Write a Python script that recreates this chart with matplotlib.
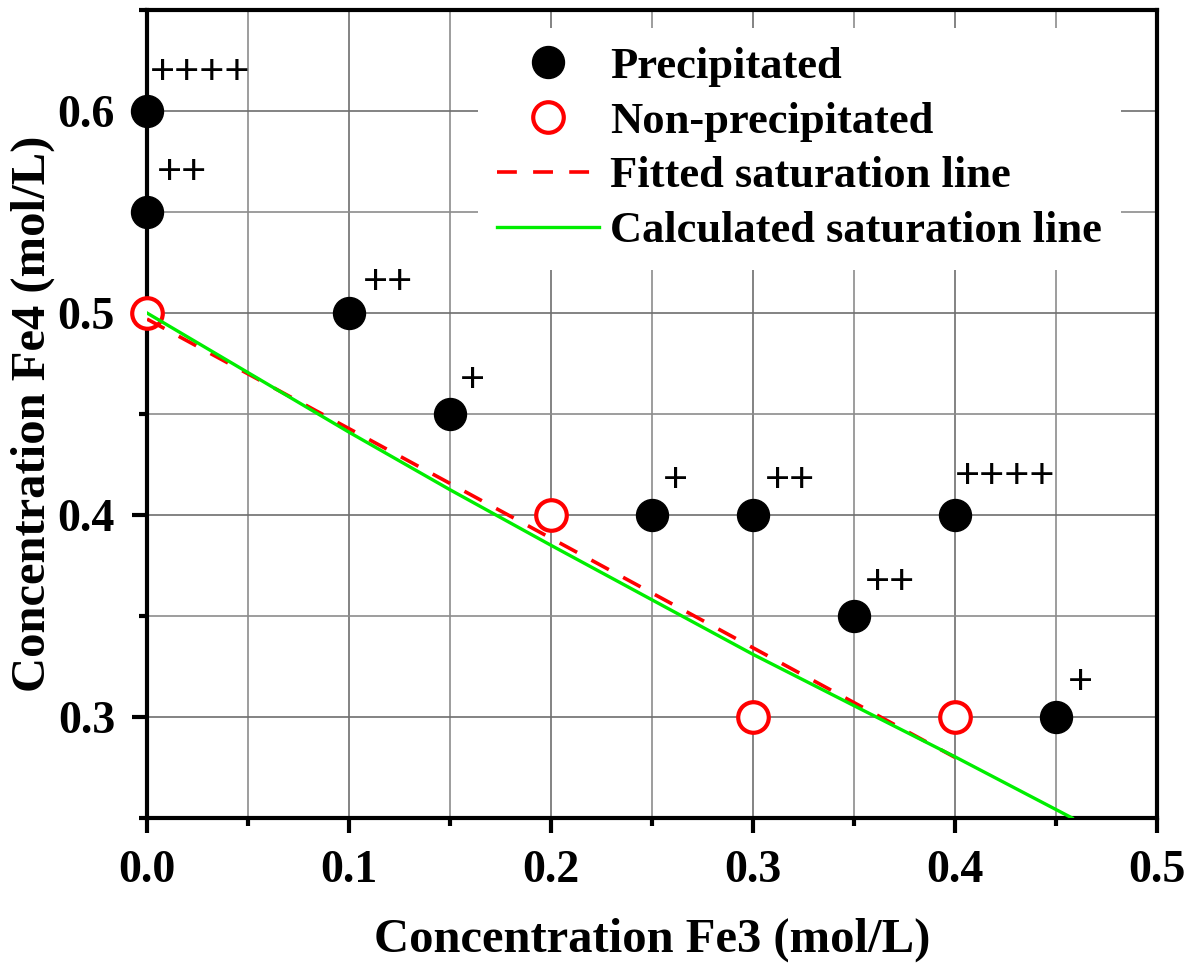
import matplotlib
matplotlib.use("Agg")
import matplotlib.pyplot as plt
from matplotlib.ticker import MultipleLocator

# ---------------- data ----------------
precip_x = [0.0, 0.0, 0.10, 0.15, 0.25, 0.30, 0.35, 0.40, 0.45]
precip_y = [0.60, 0.55, 0.50, 0.45, 0.40, 0.40, 0.35, 0.40, 0.30]
precip_labels = ["++++", "++", "++", "+", "+", "++", "++", "++++", "+"]

nonprecip_x = [0.0, 0.20, 0.30, 0.40]
nonprecip_y = [0.50, 0.40, 0.30, 0.30]

fitted_x = [0.0, 0.40]
fitted_y = [0.497, 0.280]

calc_x = [0.0, 0.10, 0.15, 0.20, 0.30, 0.35, 0.40, 0.458]
calc_y = [0.500, 0.441, 0.4125, 0.385, 0.331, 0.3056, 0.2803, 0.250]

xticks = [0.0, 0.1, 0.2, 0.3, 0.4, 0.5]
yticks = [0.3, 0.4, 0.5, 0.6]

legend_labels = ["Precipitated", "Non-precipitated",
                 "Fitted saturation line", "Calculated saturation line"]

# ---------------- figure ----------------
serif = ["Liberation Serif", "DejaVu Serif"]
fig = plt.figure(figsize=(11.92, 9.66), dpi=100)
ax = fig.add_axes([147/1192, 1 - 818/966, (1157-147)/1192, (818-10)/966])

ax.set_xlim(0, 0.5)
ax.set_ylim(0.25, 0.65)

ax.plot(nonprecip_x, nonprecip_y, linestyle="none", marker="o", ms=22,
        mfc="white", mec="#ff0000", mew=3, zorder=4, clip_on=False,
        label=legend_labels[1])
ax.plot(fitted_x, fitted_y, color="#ff0000", lw=2.6, linestyle=(0, (5.5, 4.5)),
        zorder=5, label=legend_labels[2])
ax.plot(calc_x, calc_y, color="#00ee00", lw=2.4, zorder=5,
        label=legend_labels[3])
ax.plot(precip_x, precip_y, linestyle="none", marker="o", ms=23,
        mfc="black", mec="black", zorder=6, clip_on=False,
        label=legend_labels[0])

label_offsets = [(3, 43), (10, 44), (14, 34), (10, 38), (11, 38),
                 (12, 38), (11, 38), (0, 43), (12, 38)]
for x, y, s, (dx, dy) in zip(precip_x, precip_y, precip_labels, label_offsets):
    ax.annotate(s, (x, y), xytext=(dx, dy), textcoords="offset pixels",
                ha="left", va="center_baseline", fontsize=31,
                family=["Liberation Sans", "DejaVu Sans"], zorder=7,
                annotation_clip=False)

# ticks / grid
ax.set_xticks(xticks)
ax.set_yticks(yticks)
ax.xaxis.set_minor_locator(MultipleLocator(0.05))
ax.yaxis.set_minor_locator(MultipleLocator(0.05))
ax.set_xticklabels([f"{v:.1f}" for v in xticks])
ax.set_yticklabels([f"{v:.1f}" for v in yticks])
ax.tick_params(which="major", direction="out", length=11, width=3,
               labelsize=33, pad=12)
ax.tick_params(which="minor", direction="out", length=6, width=3)
for lab in ax.get_xticklabels() + ax.get_yticklabels():
    lab.set_fontfamily(serif)
    lab.set_fontweight("bold")

ax.grid(which="major", color="#6e6e6e", lw=1.2)
ax.grid(which="minor", color="#8c8c8c", lw=1.2)
ax.set_axisbelow(True)

for sp in ax.spines.values():
    sp.set_linewidth(3)
    sp.set_zorder(3)

ax.set_xlabel("Concentration Fe3 (mol/L)", fontsize=35, fontweight="bold",
              family=serif)
ax.set_ylabel("Concentration Fe4 (mol/L)", fontsize=35, fontweight="bold",
              family=serif)
ax.xaxis.set_label_coords(0.5, -(940 - 818) / 808, transform=ax.transAxes)
ax.xaxis.label.set_va("center")
ax.yaxis.set_label_coords(-(147 - 33) / 1010, 0.5, transform=ax.transAxes)
ax.yaxis.label.set_va("center")

handles, labels = ax.get_legend_handles_labels()
order = [labels.index(l) for l in legend_labels]
leg = ax.legend([handles[i] for i in order], [labels[i] for i in order],
                loc="upper left", bbox_to_anchor=(478/1192, 1 - 28/966),
                bbox_transform=fig.transFigure,
                prop={"family": serif, "weight": "bold", "size": 32},
                frameon=True, fancybox=False, framealpha=1, edgecolor="none",
                facecolor="white", handlelength=2.3, handletextpad=0.25,
                labelspacing=0.33, borderpad=0.42, borderaxespad=0)
leg.set_zorder(8)

fig.savefig("out.png", dpi=100)
